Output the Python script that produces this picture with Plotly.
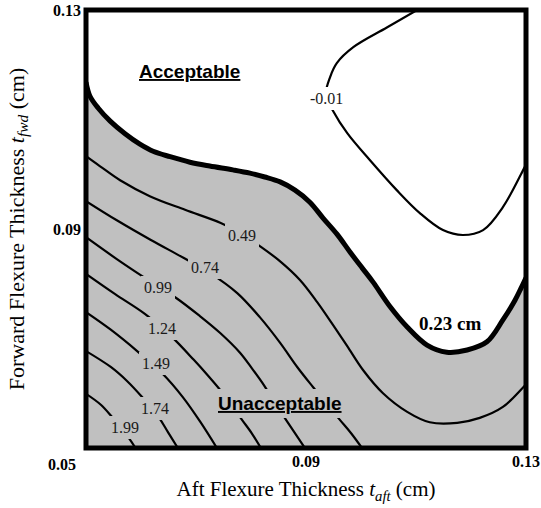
import plotly.graph_objects as go

# Aft (x) and forward (y) flexure thicknesses in cm
# 0.23 cm limit contour separating acceptable / unacceptable designs
limit_x = [0.0500, 0.0507, 0.0522, 0.0544, 0.0571, 0.0598, 0.0622, 0.0653, 0.0689, 0.0725,
           0.0767, 0.0798, 0.0825, 0.0853, 0.0880, 0.0907, 0.0931, 0.0956, 0.0980, 0.1002,
           0.1022, 0.1053, 0.1084, 0.1120, 0.1156, 0.1193, 0.1229, 0.1258, 0.1280, 0.1291, 0.1300]
limit_y = [0.1168, 0.1143, 0.1121, 0.1097, 0.1074, 0.1055, 0.1042, 0.1032, 0.1022, 0.1015,
           0.1008, 0.1002, 0.0995, 0.0986, 0.0971, 0.0949, 0.0920, 0.0891, 0.0858, 0.0829,
           0.0803, 0.0758, 0.0721, 0.0688, 0.0675, 0.0679, 0.0694, 0.0734, 0.0770, 0.0792, 0.0811]

# Labelled contour levels
level_m001_x = [0.1109, 0.1047, 0.0986, 0.0956, 0.0944, 0.0936, 0.0949, 0.0975, 0.1016, 0.1065,
                0.1107, 0.1149, 0.1185, 0.1222, 0.1258, 0.1295, 0.1304]
level_m001_y = [0.1304, 0.1268, 0.1232, 0.1203, 0.1178, 0.1145, 0.1116, 0.1075, 0.1026, 0.0971,
                0.0929, 0.0898, 0.0889, 0.0898, 0.0940, 0.1008, 0.1026]

level_049_x = [0.0500, 0.0525, 0.0562, 0.0616, 0.0680, 0.0745, 0.0784, 0.0813, 0.0853, 0.0889, 0.0920,
               0.0949, 0.0975, 0.1004, 0.1040, 0.1084, 0.1125, 0.1175, 0.1216, 0.1258, 0.1295, 0.1302]
level_049_y = [0.1033, 0.1015, 0.0989, 0.0960, 0.0935, 0.0911, 0.0891, 0.0871, 0.0841, 0.0807, 0.0767,
               0.0725, 0.0686, 0.0642, 0.0600, 0.0566, 0.0547, 0.0546, 0.0555, 0.0575, 0.0611, 0.0618]

level_074_x = [0.0500, 0.0556, 0.0618, 0.0678, 0.0725, 0.0775, 0.0816, 0.0853, 0.0884,
               0.0913, 0.0938, 0.0962, 0.0982, 0.1004]
level_074_y = [0.0951, 0.0916, 0.0880, 0.0847, 0.0820, 0.0783, 0.0739, 0.0692, 0.0648,
               0.0611, 0.0580, 0.0551, 0.0527, 0.0497]

level_099_x = [0.0500, 0.0556, 0.0605, 0.0664, 0.0707, 0.0744, 0.0780, 0.0802, 0.0824,
               0.0844, 0.0864, 0.0882, 0.0900]
level_099_y = [0.0885, 0.0845, 0.0812, 0.0774, 0.0741, 0.0710, 0.0674, 0.0645, 0.0614,
               0.0582, 0.0551, 0.0524, 0.0497]

level_124_x = [0.0500, 0.0553, 0.0607, 0.0656, 0.0696, 0.0722, 0.0744, 0.0764, 0.0784, 0.0802, 0.0818]
level_124_y = [0.0818, 0.0781, 0.0745, 0.0703, 0.0661, 0.0632, 0.0606, 0.0579, 0.0551, 0.0526, 0.0500]

level_149_x = [0.0500, 0.0545, 0.0593, 0.0638, 0.0676, 0.0707, 0.0738]
level_149_y = [0.0748, 0.0716, 0.0677, 0.0637, 0.0593, 0.0549, 0.0500]

level_174_x = [0.0500, 0.0545, 0.0575, 0.0602, 0.0633, 0.0649, 0.0667]
level_174_y = [0.0677, 0.0648, 0.0622, 0.0593, 0.0555, 0.0529, 0.0500]

level_199_x = [0.0500, 0.0527, 0.0547, 0.0578, 0.0590]
level_199_y = [0.0599, 0.0579, 0.0557, 0.0518, 0.0500]

level_names = ["-0.01", "0.49", "0.74", "0.99", "1.24", "1.49", "1.74", "1.99"]
level_lines = [(level_m001_x, level_m001_y), (level_049_x, level_049_y), (level_074_x, level_074_y),
               (level_099_x, level_099_y), (level_124_x, level_124_y), (level_149_x, level_149_y),
               (level_174_x, level_174_y), (level_199_x, level_199_y)]

# where each level's inline label sits (aft, fwd)
label_at = [(0.0938, 0.1139), (0.0784, 0.0889), (0.0716, 0.0829), (0.0631, 0.0794),
            (0.0638, 0.0719), (0.0627, 0.0655), (0.0625, 0.0573), (0.0571, 0.0537)]

tick_vals = [0.09, 0.13]
tick_text = ["0.09", "0.13"]

GRAY = "#c0c0c0"
SERIF = "Liberation Serif"
SANS = "Liberation Sans"

fig = go.Figure()

# unacceptable region: everything below the limit contour
fig.add_trace(go.Scatter(
    x=limit_x, y=limit_y, mode="lines", line=dict(width=0, shape="spline", color=GRAY),
    fill="tozeroy", fillcolor=GRAY, hoverinfo="skip"))

for xs, ys in level_lines:
    fig.add_trace(go.Scatter(
        x=xs, y=ys, mode="lines", line=dict(color="black", width=2.2, shape="spline"),
        hoverinfo="skip"))

# limit contour drawn heavy
fig.add_trace(go.Scatter(
    x=limit_x, y=limit_y, mode="lines", line=dict(color="black", width=5, shape="spline"),
    hoverinfo="skip"))

annotations = []
for name, (ax_, ay_) in zip(level_names, label_at):
    bg = "white" if name.startswith("-") else GRAY
    annotations.append(dict(
        x=ax_, y=ay_, xref="x", yref="y", text=name, showarrow=False,
        font=dict(family=SERIF, size=16, color="#1a1a1a"),
        bgcolor=bg, borderpad=3, borderwidth=0))

annotations += [
    dict(x=0.1162, y=0.0728, xref="x", yref="y", text="<b>0.23 cm</b>", showarrow=False,
         font=dict(family=SERIF, size=19, color="black")),
    dict(x=0.0689, y=0.1187, xref="x", yref="y", text="<b><u>Acceptable</u></b>", showarrow=False,
         font=dict(family=SANS, size=19, color="black")),
    dict(x=0.0853, y=0.0582, xref="x", yref="y", text="<b><u>Unacceptable</u></b>", showarrow=False,
         font=dict(family=SANS, size=19, color="black"), bgcolor=GRAY, borderpad=4, borderwidth=0),
    # shared corner label for both axes
    dict(x=0.05, y=0.05, xref="x", yref="y", text="<b>0.05</b>", showarrow=False,
         xanchor="right", yanchor="middle", xshift=-8, yshift=-16,
         font=dict(family=SERIF, size=16, color="black")),
]

fig.update_layout(
    template="none",
    width=541, height=508,
    margin=dict(l=86, r=15, t=10, b=60),
    paper_bgcolor="white", plot_bgcolor="white",
    showlegend=False,
    annotations=annotations,
    shapes=[dict(type="rect", xref="paper", yref="paper", x0=0, y0=0, x1=1, y1=1,
                 line=dict(color="black", width=5), layer="above")],
    xaxis=dict(range=[0.05, 0.13], tickvals=tick_vals, ticktext=["<b>%s</b>" % t for t in tick_text],
               showgrid=False, zeroline=False, showline=False, ticks="", automargin=False,
               ticklabelstandoff=2,
               tickfont=dict(family=SERIF, size=16, color="black"),
               title=dict(text="Aft Flexure Thickness <i>t</i><sub><i>aft</i></sub> (cm)",
                          font=dict(family=SERIF, size=21, color="black"), standoff=12)),
    yaxis=dict(range=[0.05, 0.13], tickvals=tick_vals, ticktext=["<b>%s</b>" % t for t in tick_text],
               showgrid=False, zeroline=False, showline=False, ticks="", automargin=False,
               ticklabelstandoff=4,
               tickfont=dict(family=SERIF, size=16, color="black"),
               title=dict(text="Forward Flexure Thickness <i>t</i><sub><i>fwd</i></sub> (cm)",
                          font=dict(family=SERIF, size=22, color="black"), standoff=22)),
)

fig.write_html("out.html")
